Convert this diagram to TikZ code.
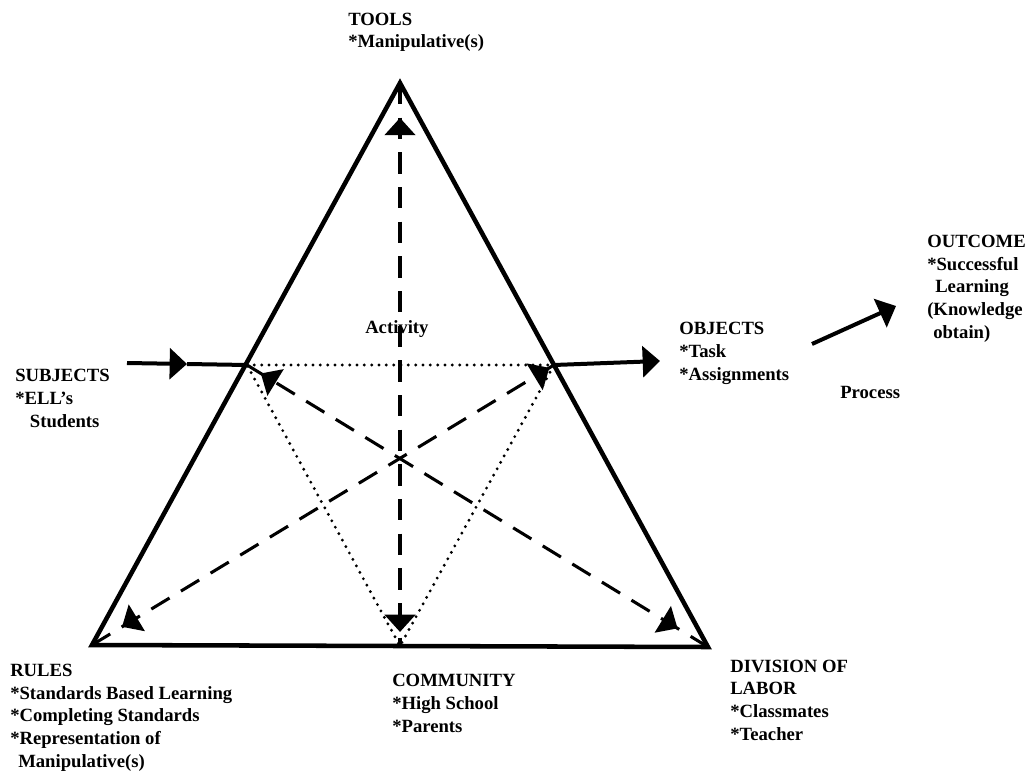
\documentclass[tikz,border=0pt]{standalone}
\usepackage{fontspec}
\setmainfont{Liberation Serif}
\usetikzlibrary{arrows.meta,decorations.markings}

\begin{document}
\begin{tikzpicture}[x=0.75pt, y=-0.75pt, font=\fontsize{14}{17}\selectfont\bfseries,
    lbl/.style = {align=left, anchor=base west, inner sep=0pt},
    side/.style = {line width=3.4pt, line join=miter},
    flow/.style = {line width=3pt, -{Triangle[length=13pt, width=23pt]}},
    dline/.style = {line width=2.3pt, dash pattern=on 16pt off 10pt},
    dotline/.style = {line width=2.4pt, line cap=round, dash pattern=on 0pt off 5.5pt},
    twoheads/.style 2 args = {postaction={decorate}, decoration={markings,
        mark=at position #1 with {\arrowreversed{Triangle[length=13pt, width=23pt]}},
        mark=at position #2 with {\arrow{Triangle[length=13pt, width=23pt]}}}}]
    \useasboundingbox (0,0) rectangle (1032,774);
    % corners of the activity triangle
    \coordinate (top) at (400,83);
    \coordinate (bl) at (92,645);
    \coordinate (br) at (708,647);
    \coordinate (ml) at (247,365);
    \coordinate (mr) at (554,365);
    \coordinate (mb) at (400,646);
    % arrow ends
    \coordinate (subjtail) at (127,363);
    \coordinate (subjtip) at (187,364);
    \coordinate (objtip) at (660,361);
    \coordinate (outtail) at (812,344);
    \coordinate (outtip) at (896,306);
    % labels (placed at the baseline of their last line)
    \node[lbl] (tools) at (348,48) {TOOLS\\*Manipulative(s)};
    \node[lbl] (subjects) at (15,427) {SUBJECTS\\*ELL's\\\hspace*{11pt}Students};
    \node[lbl] (objects) at (679,380) {OBJECTS\\*Task\\*Assignments};
    \node[lbl] (process) at (840,398) {Process};
    \node[lbl] (outcome) at (927,338) {OUTCOME\\*Successful\\\hspace*{6pt}Learning\\(Knowledge\\\hspace*{4.5pt}obtain)};
    \node[lbl] (activity) at (365,333) {Activity};
    \node[lbl] (rules) at (10,767) {RULES\\*Standards Based Learning\\*Completing Standards\\*Representation of\\\hspace*{6pt}Manipulative(s)};
    \node[lbl] (community) at (392,732) {COMMUNITY\\*High School\\*Parents};
    \node[lbl] (division) at (730,740) {DIVISION OF\\LABOR\\*Classmates\\*Teacher};
    % triangles
    \draw[dotline] (ml) -- (mr) -- (mb) -- cycle;
    \draw[dline, twoheads={0.062}{0.975}] (top) -- (mb);
    \draw[dline, twoheads={0.065}{0.99}] (bl) -- (mr);
    \draw[dline, twoheads={0.03}{0.934}] (ml) -- (br);
    \draw[side] (top) -- (bl) -- (br) -- cycle;
    % flows
    \draw[flow] (subjtail) -- (subjtip);
    \draw[line width=3pt] (subjtip) -- (ml);
    \draw[flow] (mr) -- (objtip);
    \draw[flow] (outtail) -- (outtip);
\end{tikzpicture}
\end{document}
